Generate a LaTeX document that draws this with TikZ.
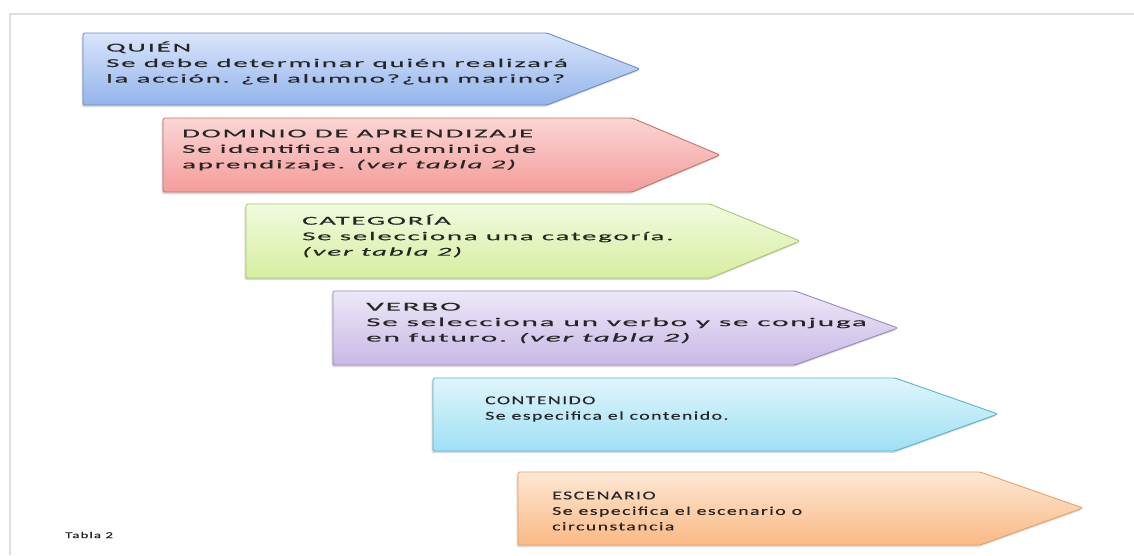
\documentclass[tikz,border=0pt]{standalone}
\usepackage{fontspec}
\setmainfont{Carlito}
\newfontfamily\boxfont[FakeStretch=2.4,LetterSpace=15,FakeBold=0.3]{Carlito}
\newfontfamily\wideboxfont[FakeStretch=2.6,LetterSpace=15,FakeBold=0.3]{Carlito}
\newfontfamily\narrowboxfont[FakeStretch=1.65,LetterSpace=12,FakeBold=0.3]{Carlito}
\usepackage{tikz}
\usetikzlibrary{positioning, shadows}

\definecolor{quienB}{HTML}{6C8CC4}
\definecolor{quienT}{HTML}{D9E5FA}
\definecolor{quienD}{HTML}{93B4EC}
\definecolor{domB}{HTML}{C8706C}
\definecolor{domT}{HTML}{FBD6D5}
\definecolor{domD}{HTML}{F39C9A}
\definecolor{catB}{HTML}{A9C56F}
\definecolor{catT}{HTML}{F2FADF}
\definecolor{catD}{HTML}{D4EF9F}
\definecolor{verB}{HTML}{9A88BE}
\definecolor{verT}{HTML}{EEE8F7}
\definecolor{verD}{HTML}{C8B8E6}
\definecolor{conB}{HTML}{5AB4CC}
\definecolor{conT}{HTML}{E0F5FC}
\definecolor{conD}{HTML}{9EE0F5}
\definecolor{escB}{HTML}{E9A067}
\definecolor{escT}{HTML}{FDE8D4}
\definecolor{escD}{HTML}{FAB985}

\begin{document}
\begin{tikzpicture}[
    x=1pt, y=-1pt,
    shp/.style={line width=0.9pt, rounded corners=1.5pt,
                drop shadow={shadow xshift=-1.5pt, shadow yshift=-2pt,
                             opacity=0.22, fill=black!70}},
    txt/.style={anchor=west, align=left, inner sep=0pt, text=black!85,
                font=\boxfont\fontsize{12}{15.5}\selectfont},
    wtxt/.style={txt, font=\wideboxfont\fontsize{12}{15.5}\selectfont},
    ntxt/.style={txt, font=\narrowboxfont\fontsize{12}{15.5}\selectfont},
  ]
  \useasboundingbox (0,0) rectangle (1134,555);

  % page frame
  \draw[black!13, line width=1.6pt] (1134,14) -- (10,14) -- (10,555);

  % ============ QUIEN ============
  \path[shp, draw=quienB, top color=quienT, bottom color=quienD]
    (83,33) -- (547,33) -- (640,69) -- (547,105) -- (83,105) -- cycle;
  \node[txt] (quien) at (106,63) {QUIÉN\\
    Se debe determinar quién realizará\\
    la acción. ¿el alumno?¿un marino?};

  % ============ DOMINIO ============
  \path[shp, draw=domB, top color=domT, bottom color=domD]
    (163,118) -- (632,118) -- (720,155) -- (632,192) -- (163,192) -- cycle;
  \node[txt] (dominio) at (182,150) {DOMINIO DE APRENDIZAJE\\
    Se identifica un dominio de\\
    aprendizaje. \textit{(ver tabla 2)}};

  % ============ CATEGORIA ============
  \path[shp, draw=catB, top color=catT, bottom color=catD]
    (246,204) -- (710,204) -- (800,241) -- (710,278) -- (246,278) -- cycle;
  \node[txt] (categoria) at (302,236) {CATEGORÍA\\
    Se selecciona una categoría.\\
    \textit{(ver tabla 2)}};

  % ============ VERBO ============
  \path[shp, draw=verB, top color=verT, bottom color=verD]
    (333,291) -- (795,291) -- (898,328) -- (795,365) -- (333,365) -- cycle;
  \node[wtxt] (verbo) at (366,323) {VERBO\\
    Se selecciona un verbo y se conjuga\\
    en futuro. \textit{(ver tabla 2)}};

  % ============ CONTENIDO ============
  \path[shp, draw=conB, top color=conT, bottom color=conD]
    (433,378) -- (895,378) -- (998,414) -- (895,451) -- (433,451) -- cycle;
  \node[ntxt] (contenido) at (485,409) {CONTENIDO\\
    Se especifica el contenido.};

  % ============ ESCENARIO ============
  \path[shp, draw=escB, top color=escT, bottom color=escD]
    (518,472) -- (980,472) -- (1083,508) -- (980,545) -- (518,545) -- cycle;
  \node[ntxt] (escenario) at (552,511) {ESCENARIO\\
    Se especifica el escenario o\\
    circunstancia};

  % caption
  \node[ntxt, font=\narrowboxfont\fontsize{9}{10}\selectfont] (tabla) at (65,535) {Tabla 2};
\end{tikzpicture}
\end{document}
